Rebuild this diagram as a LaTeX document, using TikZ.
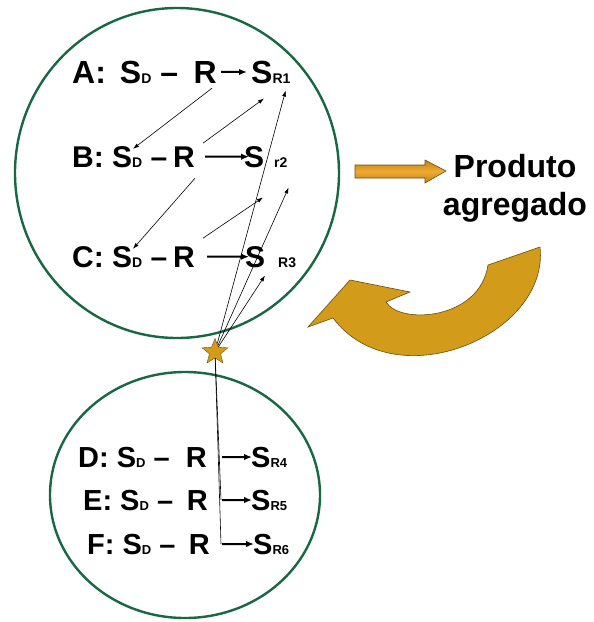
\documentclass[tikz,border=0pt]{standalone}
\usepackage{fontspec}
\setmainfont{Liberation Sans}
\usepackage{xcolor}
\usetikzlibrary{arrows.meta,shapes.geometric}

\definecolor{circgreen}{RGB}{24,104,68}
\definecolor{gold}{RGB}{210,155,26}
\definecolor{golddark}{RGB}{105,78,16}
\definecolor{goldedge}{RGB}{196,128,22}
\definecolor{goldmid}{RGB}{238,170,50}

% small subscript that sits on the baseline
\newcommand{\subtxt}[2][14]{{\fontsize{#1}{#1}\selectfont #2}}

\begin{document}
\begin{tikzpicture}[
  x=1pt, y=-1pt,
  big/.style={inner sep=0pt,font=\fontsize{#1}{#1}\selectfont\bfseries},
  big/.default=30,
  link/.style={-{Latex[length=6pt,width=4pt]},line width=0.6pt},
  inarrow/.style={-{Latex[length=8pt,width=6.5pt]},line width=2pt},
  loop/.style={draw=circgreen,line width=2.4pt},
  goldshape/.style={fill=gold,draw=golddark,line width=0.6pt}
]
\fill[white] (0,0) rectangle (594,622);
\useasboundingbox (0,0) rectangle (594,622);

% the two circles
\draw[loop] (177,173) ellipse [x radius=162pt, y radius=165pt];
\draw[loop] (185,495) ellipse [x radius=135pt, y radius=123pt];

% upper group
\node[big=32,anchor=base west] (aSD) at (72,83) {A:\hspace{14pt}S\subtxt{D} –};
\node[big=32,anchor=base east] (aR) at (217,83) {R};
\node[big=32,anchor=base west] (aS) at (251,83) {S\subtxt{R1}};
\node[big,anchor=base west] (bSD) at (72,167) {B: S\subtxt{D} –};
\node[big,anchor=base east] (bR) at (195,167) {R};
\node[big,anchor=base west] (bS) at (244,167) {S\hspace{10pt}\subtxt{r2}};
\node[big,anchor=base west] (cSD) at (72,267) {C: S\subtxt{D} –};
\node[big,anchor=base east] (cR) at (195,267) {R};
\node[big,anchor=base west] (cS) at (245,267) {S\hspace{13pt}\subtxt{R3}};

\draw[inarrow] ([xshift=4pt]aR.east) -- ([xshift=-4pt]aS.west);
\draw[inarrow] ([xshift=10pt]bR.east) -- ([xshift=5pt]bS.west);
\draw[inarrow] ([xshift=12pt]cR.east) -- ([xshift=4pt]cS.west);

% lower group
\node[big=29,anchor=base west] (dSD) at (78,467) {D: S\subtxt[13]{D} –};
\node[big=29,anchor=base east] (dR) at (207,467) {R};
\node[big=29,anchor=base west] (dS) at (251,467) {S\subtxt[13]{R4}};
\node[big=29,anchor=base west] (eSD) at (83,510) {E: S\subtxt[13]{D} –};
\node[big=29,anchor=base east] (eR) at (208,510) {R};
\node[big=29,anchor=base west] (eS) at (251,510) {S\subtxt[13]{R5}};
\node[big=29,anchor=base west] (fSD) at (87,554) {F: S\subtxt[13]{D} –};
\node[big=29,anchor=base east] (fR) at (210,554) {R};
\node[big=29,anchor=base west] (fS) at (253,554) {S\subtxt[13]{R6}};

\draw[inarrow] ([xshift=15pt]dR.east) -- ([xshift=1pt]dS.west);
\draw[inarrow] ([xshift=14pt]eR.east) -- ([xshift=1pt]eS.west);
\draw[inarrow] ([xshift=12pt]fR.east) -- ([xshift=1pt]fS.west);

% cross links
\draw[link] ([xshift=-5pt,yshift=-5pt]aR.south east) -- ([xshift=61pt,yshift=-3pt]bSD.north west);
\draw[link] ([xshift=8pt,yshift=3pt]bR.north east) -- ([xshift=13pt,yshift=-15pt]aS.south west);
\draw[link] ([xshift=0pt,yshift=-11pt]bR.south east) -- ([xshift=61pt,yshift=-3pt]cSD.north west);
\draw[link] ([xshift=8pt,yshift=8pt]cR.north east) -- ([xshift=19pt,yshift=-30pt]bS.south west);

\node[star,star points=5,star point ratio=2.3,fill=gold,draw=golddark,
  minimum size=27pt,inner sep=0pt] (star) at (215,352) {};
\draw[link] (star) -- ([xshift=-5pt,yshift=-7pt]aS.south east);
\draw[link] (star) -- ([xshift=1pt,yshift=-20pt]bS.south east);
\draw[link] (star) -- ([xshift=20pt,yshift=-8pt]cS.south west);
\draw[line width=0.6pt] (star) -- ([xshift=13pt]eR.east);
\draw[line width=0.6pt] (star) -- ([xshift=11pt]fR.east);

% output and feedback
\draw[draw=golddark,line width=0.6pt,top color=goldedge,bottom color=goldedge,middle color=goldmid]
  (355,165) -- (425,165) -- (425,160) -- (446,171) -- (425,183) -- (425,178) -- (355,178) -- cycle;
\node[inner sep=0pt,anchor=north,align=center,font=\fontsize{32}{38}\selectfont\bfseries] (prod) at (515,154) {Produto\\agregado};
\draw[goldshape] (308,327) -- (350,280) -- (410,292) -- (386,302)
  .. controls (400,325) and (480,320) .. (488,265) -- (540,247)
  .. controls (550,335) and (395,400) .. (333,318) -- cycle;
\end{tikzpicture}
\end{document}
